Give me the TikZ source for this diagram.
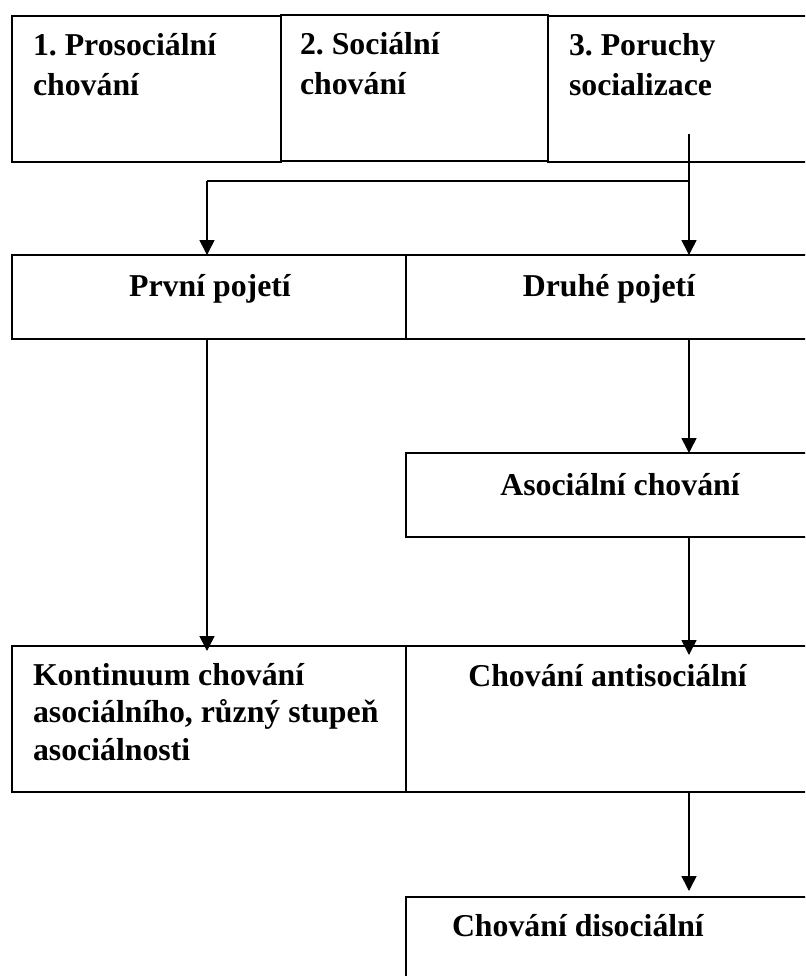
\documentclass[tikz,border=0pt]{standalone}
\usepackage{fontspec}
\setmainfont{Liberation Serif}
\usetikzlibrary{arrows.meta}
\frenchspacing
\begin{document}
\begin{tikzpicture}[x=0.5pt,y=-0.5pt,
  box/.style={draw, line width=0.8pt, inner sep=0pt, outer sep=0pt, anchor=north west},
  lbl/.style={inner sep=0pt, outer sep=0pt, font=\fontsize{15.9}{19.6}\selectfont\bfseries, align=left},
  arr/.style={line width=0.8pt, -{Triangle[width=7.5pt,length=7.5pt]}},
  ln/.style={line width=0.8pt}]
\useasboundingbox (0,0) rectangle (805,976);
\clip (0,0) rectangle (805,976);
% boxes
\node[box, minimum width=134.5pt, minimum height=73pt] (b1) at (12,16) {};
\node[box, minimum width=133.5pt, minimum height=73pt] (b2) at (281,15) {};
\node[box, minimum width=141pt, minimum height=73pt] (b3) at (548,16) {};
\node[box, minimum width=197pt, minimum height=42pt] (prvni) at (12,255) {};
\node[box, minimum width=212pt, minimum height=42pt] (druhe) at (406,255) {};
\node[box, minimum width=212pt, minimum height=42pt] (asoc) at (406,453) {};
\node[box, minimum width=197pt, minimum height=73pt] (kont) at (12,646) {};
\node[box, minimum width=212pt, minimum height=73pt] (anti) at (406,646) {};
\node[box, minimum width=212pt, minimum height=60pt] (diso) at (406,897) {};
% texts (anchor = baseline of the last line)
\node[lbl, anchor=base west] (t1) at (33,95) {1. Prosociální\\chování};
\node[lbl, anchor=base west] (t2) at (300,94) {2. Sociální\\chování};
\node[lbl, anchor=base west] (t3) at (569,95) {3. Poruchy\\socializace};
\node[lbl, anchor=base] (tp) at (210,296) {První pojetí};
\node[lbl, anchor=base] (td) at (609,296) {Druhé pojetí};
\node[lbl, anchor=base] (ta) at (620,495) {Asociální chování};
\node[lbl, anchor=base west, font=\fontsize{15.9}{18.6}\selectfont\bfseries] (tk) at (33,760) {Kontinuum chování\\asociálního, různý stupeň\\asociálnosti};
\node[lbl, anchor=base] (tan) at (607.5,686.7) {Chování antisociální};
\node[lbl, anchor=base west] (tdi) at (452,936.7) {Chování disociální};
% connector points
\coordinate (c3) at (689,134);
\coordinate (j) at (689,181);
\coordinate (xl) at (207,0);
\coordinate (xr) at (689,0);
% connectors
\draw[arr] (c3) -- (c3 |- druhe.north);
\draw[ln] (j) -- (j -| xl);
\draw[arr] (j -| xl) -- (xl |- prvni.north);
\draw[arr, shorten >=-2.5pt] (xl |- prvni.south) -- (xl |- kont.north);
\draw[arr] (xr |- druhe.south) -- (xr |- asoc.north);
\draw[arr, shorten >=-4.5pt] (xr |- asoc.south) -- (xr |- anti.north);
\draw[arr, shorten >=3pt] (xr |- anti.south) -- (xr |- diso.north);
\end{tikzpicture}
\end{document}
